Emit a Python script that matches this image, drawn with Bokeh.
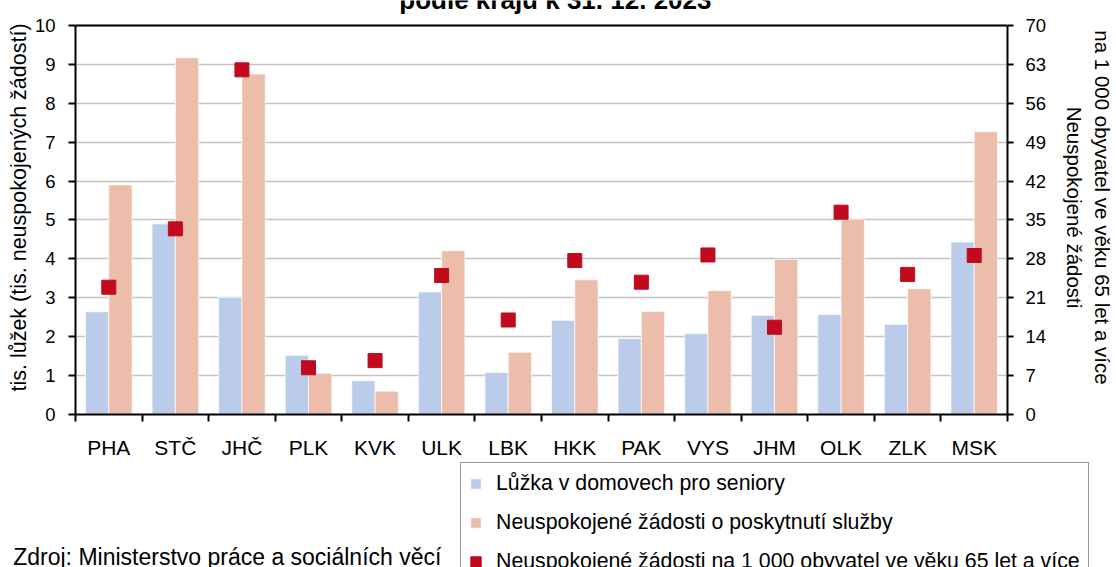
from bokeh.plotting import figure
from bokeh.layouts import column
from bokeh.models import (FactorRange, Range1d, LinearAxis, FixedTicker, Legend, LegendItem,
                          Label, Span, ColumnDataSource, Grid)
from bokeh.transform import dodge
from bokeh.embed import file_html
from bokeh.resources import INLINE

# ---- data ----
categories = ["PHA", "STČ", "JHČ", "PLK", "KVK", "ULK", "LBK", "HKK", "PAK", "VYS", "JHM", "OLK", "ZLK", "MSK"]
beds_thousands = [2.64, 4.90, 3.01, 1.52, 0.87, 3.15, 1.08, 2.42, 1.95, 2.08, 2.55, 2.57, 2.32, 4.43]
unmet_thousands = [5.90, 9.17, 8.75, 1.06, 0.60, 4.21, 1.60, 3.46, 2.65, 3.18, 3.99, 5.02, 3.23, 7.27]
unmet_per_1000 = [22.9, 33.4, 62.0, 8.4, 9.7, 25.0, 17.0, 27.7, 23.8, 28.7, 15.7, 36.4, 25.2, 28.6]
left_ticks = [0, 1, 2, 3, 4, 5, 6, 7, 8, 9, 10]
right_ticks = [0, 7, 14, 21, 28, 35, 42, 49, 56, 63, 70]

series_names = ["Lůžka v domovech pro seniory",
                "Neuspokojené žádosti o poskytnutí služby",
                "Neuspokojené žádosti na 1 000 obyvatel ve věku 65 let a více"]
title_text = "podle krajů k 31. 12. 2023"
left_label = "tis. lůžek (tis. neuspokojených žádostí)"
right_label_lines = ["Neuspokojené žádosti", "na 1 000 obyvatel ve věku 65 let a více"]
source_text = "Zdroj: Ministerstvo práce a sociálních věcí"

BLUE = "#BBCCEA"
PINK = "#EBBDAA"
RED = "#C00A1E"
FONT = "Liberation Sans"

W = 1116
H1, H2 = 461, 106                      # chart part, legend part
F_LEFT, F_RIGHT, Y0_PX, Y10_PX = 75, 1015, 416, 25
n = len(categories)
UX = (F_RIGHT - F_LEFT) / n
UY = (Y0_PX - Y10_PX) / 10.0
YTOP = Y0_PX / UY                      # left-axis value at the canvas top
BASE_FIX = 7                           # label baseline correction (px)


def dx(px):
    return (px - F_LEFT) / UX


def dy(py):
    return (Y0_PX - py) / UY


src = ColumnDataSource(dict(cat=categories, beds=beds_thousands,
                            unmet=unmet_thousands, per=unmet_per_1000))

# ---------------- chart ----------------
p = figure(width=W, height=H1, x_range=FactorRange(*categories, range_padding=0),
           y_range=Range1d(0, YTOP), x_axis_type=None, y_axis_type=None,
           output_backend="svg", toolbar_location=None,
           min_border_left=F_LEFT, min_border_right=W - F_RIGHT,
           min_border_top=0, min_border_bottom=H1 - Y0_PX)
p.frame_align = False
p.extra_y_ranges = {"right": Range1d(0, YTOP * 7)}
p.outline_line_color = None
p.background_fill_color = "white"
p.border_fill_color = "white"

xaxis = LinearAxis(ticker=FixedTicker(ticks=[i + 0.5 for i in range(n)],
                                      minor_ticks=list(range(n + 1))),
                   major_label_overrides={i + 0.5: c for i, c in enumerate(categories)})
xaxis.major_tick_out = 0
xaxis.major_tick_in = 0
xaxis.minor_tick_out = 7
xaxis.minor_tick_in = 0
xaxis.minor_tick_line_color = "black"
xaxis.minor_tick_line_width = 2
xaxis.axis_line_width = 2
xaxis.major_label_text_font = FONT
xaxis.major_label_text_font_size = "21px"
xaxis.major_label_text_color = "black"
xaxis.major_label_standoff = 14
p.add_layout(xaxis, "below")

yaxis = LinearAxis(ticker=FixedTicker(ticks=left_ticks), axis_label=left_label, bounds=(0, 10))
yaxis.major_tick_out = 7
yaxis.major_tick_in = 0
yaxis.minor_tick_out = 0
yaxis.major_tick_line_width = 2
yaxis.axis_line_width = 2
yaxis.major_label_text_font = FONT
yaxis.major_label_text_font_size = "18.5px"
yaxis.major_label_text_color = "black"
yaxis.major_label_standoff = 13
yaxis.axis_label_text_font = FONT
yaxis.axis_label_text_font_size = "21.5px"
yaxis.axis_label_text_font_style = "normal"
yaxis.axis_label_text_color = "black"
yaxis.axis_label_standoff = 1
p.add_layout(yaxis, "left")

raxis = LinearAxis(y_range_name="right", ticker=FixedTicker(ticks=right_ticks), bounds=(0, 70),
                   axis_label="\n".join(reversed(right_label_lines)))
raxis.major_tick_out = 6
raxis.major_tick_in = 0
raxis.minor_tick_out = 0
raxis.major_tick_line_width = 2
raxis.axis_line_width = 2
raxis.major_label_text_font = FONT
raxis.major_label_text_font_size = "18.5px"
raxis.major_label_text_color = "black"
raxis.major_label_standoff = 12
raxis.axis_label_text_font = FONT
raxis.axis_label_text_font_size = "20.5px"
raxis.axis_label_text_font_style = "normal"
raxis.axis_label_text_color = "black"
raxis.axis_label_standoff = 14
p.add_layout(raxis, "right")

p.add_layout(Grid(dimension=1, ticker=yaxis.ticker, grid_line_color="#C4C4C4", grid_line_width=1.5))
p.add_layout(Span(location=left_ticks[-1], dimension="width", line_color="black", line_width=2))

p.vbar(x=dodge("cat", -0.175, range=p.x_range), top="beds", width=0.35, source=src,
       fill_color=BLUE, line_color="white", line_width=1, line_alpha=0.7)
p.vbar(x=dodge("cat", 0.175, range=p.x_range), top="unmet", width=0.35, source=src,
       fill_color=PINK, line_color="white", line_width=1, line_alpha=0.7)
p.rect(x="cat", y="per", width=14, height=14, width_units="screen", height_units="screen",
       y_range_name="right", fill_color=RED, line_color=RED, source=src)

# title: only its lower part lies inside the page, as in the reference
p.add_layout(Label(x=dx(559), y=dy(6 - BASE_FIX), text=title_text, text_align="center",
                   text_baseline="alphabetic", text_font=FONT, text_font_size="26px",
                   text_font_style="bold", text_color="black"))

# ---------------- legend + source ----------------
q = figure(width=W, height=H2, x_range=Range1d(0, W), y_range=Range1d(H1 + H2, H1),
           x_axis_type=None, y_axis_type=None, output_backend="svg", toolbar_location=None,
           min_border=0, min_border_left=0, min_border_right=0, min_border_top=0,
           min_border_bottom=0)
q.frame_align = False
q.outline_line_color = None
q.background_fill_color = "white"
q.border_fill_color = "white"

# legend keys carrying the styles of the three chart series (kept outside the view)
k1 = q.vbar(x=[-100], top=[H1], bottom=[H1], width=1, fill_color=BLUE, line_color="white", line_alpha=0.7)
k2 = q.vbar(x=[-100], top=[H1], bottom=[H1], width=1, fill_color=PINK, line_color="white", line_alpha=0.7)
k3 = q.rect(x=[-100], y=[H1], width=1, height=1, fill_color=RED, line_color=RED)

leg = Legend(items=[LegendItem(label=series_names[0], renderers=[k1]),
                    LegendItem(label=series_names[1], renderers=[k2]),
                    LegendItem(label=series_names[2], renderers=[k3])],
             location=(460, -16), glyph_width=13, glyph_height=13, label_height=24,
             spacing=14, padding=8, margin=0, label_standoff=14,
             border_line_color="#333333", border_line_width=1,
             background_fill_color="white", background_fill_alpha=1,
             label_text_font=FONT, label_text_font_size="21.3px", label_text_color="black")
q.add_layout(leg)

q.add_layout(Label(x=12.7, y=563 - BASE_FIX, text=source_text, text_align="left",
                   text_baseline="alphabetic", text_font=FONT, text_font_size="23px",
                   text_color="black"))

layout = column(p, q, spacing=0)
open("out.html", "w").write(file_html(layout, INLINE))
